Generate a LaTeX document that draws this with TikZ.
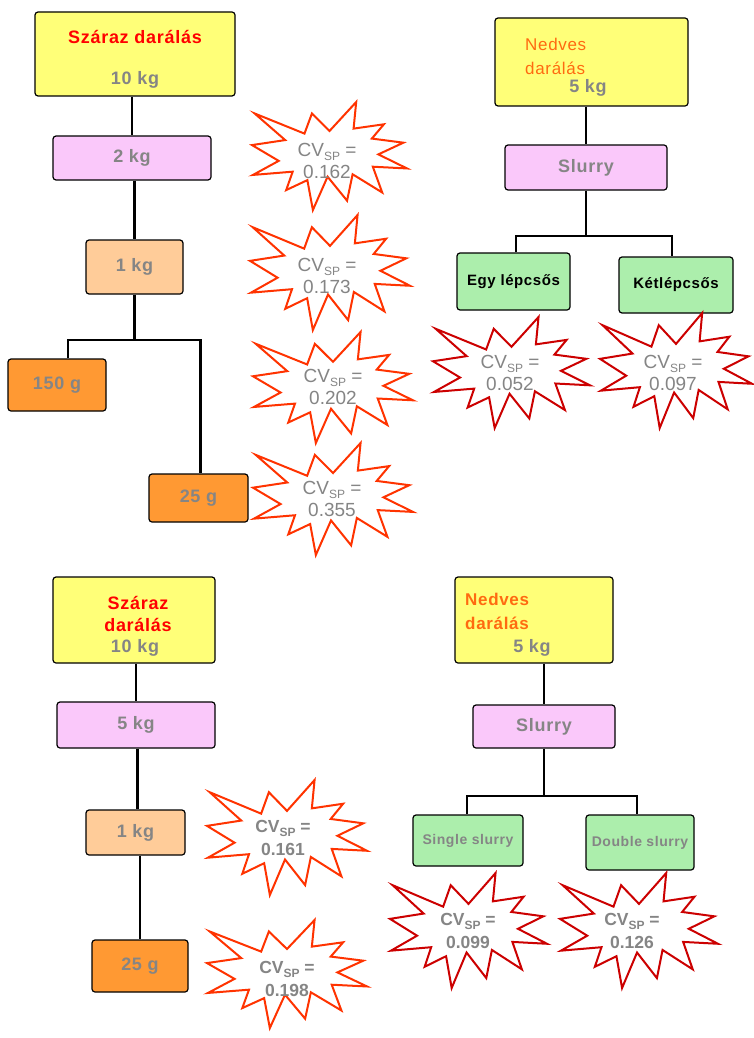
\documentclass[tikz,border=0pt]{standalone}
\usepackage{fontspec}
\setmainfont{Liberation Sans}
\newfontfamily\trackfont[LetterSpace=4]{Liberation Sans}
\definecolor{yel}{HTML}{FFFF78}
\definecolor{pnk}{HTML}{FAC8FA}
\definecolor{lor}{HTML}{FFCC99}
\definecolor{org}{HTML}{FF9933}
\definecolor{grn}{HTML}{ACEEAC}
\definecolor{txtg}{HTML}{858585}
\definecolor{burstA}{HTML}{FF3300}
\definecolor{burstB}{HTML}{CC0000}
\definecolor{nedv}{HTML}{FF6A10}
\newcommand\cvsp{CV\raisebox{-4pt}{\fontsize{12}{12}\selectfont SP} =}
\newcommand\burst[5]{%
  \begin{scope}[shift={(#1,#2)}, xscale=#3/100, yscale=#4/100]
    \draw[burstline, draw=#5] (50,26.85) -- (67.23,0) -- (65.53,24.65) -- (85.09,20.63) -- (77.32,33.87) -- (97.67,37.67) -- (81.51,48.50) -- (100,61.53) -- (77.95,59.92) -- (84.00,83.77) -- (64.91,66.93) -- (61.33,91.38) -- (48.76,69.14) -- (39.28,100) -- (35.72,72.35) -- (22.05,81.56) -- (26.24,64.52) -- (0.625,67.53) -- (17.23,54.51) -- (0,39.88) -- (21.42,35.26) -- (1.71,10.63) -- (33.85,29.26) -- (38.67,10.63) -- cycle;
  \end{scope}}
\tikzset{
  box/.style={draw=black, line width=1.2pt, rounded corners=3pt, inner sep=0pt,
    font=\bfseries\trackfont\fontsize{18}{22}\selectfont, text=txtg},
  ybox/.style={box, fill=yel},
  pbox/.style={box, fill=pnk},
  lobox/.style={box, fill=lor},
  obox/.style={box, fill=org},
  gbox/.style={box, fill=grn, text=black, font=\bfseries\trackfont\fontsize{15}{17}\selectfont},
  gboxb/.style={box, fill=grn, text=txtg, font=\bfseries\trackfont\fontsize{14}{16}\selectfont},
  kgtext/.style={inner sep=0pt, text=txtg, font=\bfseries\trackfont\fontsize{18}{22}\selectfont},
  redtext/.style={inner sep=0pt, text=red, font=\bfseries\trackfont\fontsize{18}{22}\selectfont},
  ntext/.style={inner sep=0pt, anchor=west, text=nedv, font=\trackfont\fontsize{17}{20}\selectfont},
  ntextb/.style={inner sep=0pt, anchor=west, text=nedv, font=\bfseries\trackfont\fontsize{17}{20}\selectfont},
  conn/.style={draw=black, line width=2.2pt},
  burstline/.style={line width=2pt, fill=white, line join=miter},
  btxt/.style={inner sep=0pt, align=center, text=txtg, font=\fontsize{19}{22}\selectfont},
  btxtb/.style={inner sep=0pt, align=center, text=txtg, font=\bfseries\fontsize{17.5}{23}\selectfont}
}
\begin{document}
\begin{tikzpicture}[x=1pt, y=-1pt]
\useasboundingbox[fill=white] (0,0) rectangle (754,1038);

% ---------- top left ----------
\node[ybox, minimum width=200pt, minimum height=84pt] (sd1) at (135,54) {};
\node[redtext] (sd1t) at (135,37) {Száraz darálás};
\node[kgtext] (sd1k) at (135,80) {10 kg};
\node[pbox, minimum width=158pt, minimum height=44pt] (kg2) at (132,158) {2 kg};
\node[lobox, minimum width=97pt, minimum height=54pt] (kg1a) at (134.5,267) {1 kg};
\node[obox, minimum width=98pt, minimum height=52pt] (g150) at (57,385) {150 g};
\node[obox, minimum width=99pt, minimum height=48pt] (g25a) at (198.5,498) {25 g};
\coordinate (j1) at (136,340);
\draw[conn] (kg2.north |- sd1.south) -- (kg2.north);
\draw[conn] (kg1a.north |- kg2.south) -- (kg1a.north);
\draw[conn] (kg1a.south) -- (kg1a.south |- j1);
\draw[conn] ([xshift=11pt]g150.north) |- (j1) -| ([xshift=2pt]g25a.north);

\burst{252}{102}{155}{108}{burstA}
\node[btxt] (b1) at (327,161) {\cvsp\\0.162};
\burst{250}{215}{160}{115}{burstA}
\node[btxt] (b2) at (327,276) {\cvsp\\0.173};
\burst{253}{332}{160}{111}{burstA}
\node[btxt] (b3) at (333,387) {\cvsp\\0.202};
\burst{253}{443}{160}{112}{burstA}
\node[btxt] (b4) at (332,499) {\cvsp\\0.355};

% ---------- top right ----------
\node[ybox, minimum width=193pt, minimum height=88pt] (nd1) at (591.5,62) {};
\node[ntext] (nd1a) at (525,44) {Nedves};
\node[ntext] (nd1b) at (525,68) {darálás};
\node[kgtext] (nd1k) at (588,88) {5 kg};
\node[pbox, minimum width=162pt, minimum height=45pt] (sl1) at (586,167.5) {Slurry};
\node[gbox, minimum width=113pt, minimum height=57pt] (egy) at (513.5,281.5) {Egy lépcsős};
\node[gbox, minimum width=114pt, minimum height=56pt] (ket) at (676,285) {Kétlépcsős};
\coordinate (j2) at (586,236);
\draw[conn] (sl1.north |- nd1.south) -- (sl1.north);
\draw[conn] (sl1.south) -- (j2);
\draw[conn] ([xshift=2.5pt]egy.north) |- (j2) -| ([xshift=-4pt]ket.north);

\burst{433}{317}{157}{111}{burstB}
\node[btxt] (b5) at (510,373) {\cvsp\\0.052};
\burst{600}{313}{152}{115}{burstB}
\node[btxt] (b6) at (673,373) {\cvsp\\0.097};

% ---------- bottom left ----------
\node[ybox, minimum width=162pt, minimum height=86pt] (sd2) at (134,620) {};
\node[kgtext] (sd2k) at (135,648) {10 kg};
\node[redtext] (sd2a) at (138,603) {Száraz};
\node[redtext] (sd2b) at (138,625) {darálás};
\node[pbox, minimum width=158pt, minimum height=46pt] (kg5) at (136,725) {5 kg};
\node[lobox, minimum width=99pt, minimum height=45pt] (kg1b) at (135.5,832.5) {1 kg};
\node[obox, minimum width=96pt, minimum height=52pt] (g25b) at (140,966) {25 g};
\draw[conn] (kg5.north |- sd2.south) -- (kg5.north);
\draw[conn] ([xshift=2pt]kg1b.north |- kg5.south) -- ([xshift=2pt]kg1b.north);
\draw[conn] (g25b.north |- kg1b.south) -- (g25b.north);

\burst{207}{780}{160}{115}{burstA}
\node[btxtb] (b7) at (283,838) {\cvsp\\0.161};
\burst{207}{920}{160}{108}{burstA}
\node[btxtb] (b8) at (287,979) {\cvsp\\0.198};

% ---------- bottom right ----------
\node[ybox, minimum width=158pt, minimum height=86pt] (nd2) at (534,620) {};
\node[ntextb] (nd2a) at (465,599) {Nedves};
\node[ntextb] (nd2b) at (465,623) {darálás};
\node[kgtext] (nd2k) at (532,648) {5 kg};
\node[pbox, minimum width=142pt, minimum height=43pt] (sl2) at (544,726.5) {Slurry};
\node[gboxb, minimum width=110pt, minimum height=51pt] (single) at (468,840.5) {Single slurry};
\node[gboxb, minimum width=108pt, minimum height=55pt] (double) at (640,842.5) {Double slurry};
\coordinate (j3) at (544,796);
\draw[conn] (sl2.north |- nd2.south) -- (sl2.north);
\draw[conn] (sl2.south) -- (j3);
\draw[conn] ([xshift=-1pt]single.north) |- (j3) -| ([xshift=-3pt]double.north);

\burst{390}{873}{157}{115}{burstB}
\node[btxtb] (b9) at (468,931) {\cvsp\\0.099};
\burst{560}{873}{158}{115}{burstB}
\node[btxtb] (b10) at (632,931) {\cvsp\\0.126};
\end{tikzpicture}
\end{document}
